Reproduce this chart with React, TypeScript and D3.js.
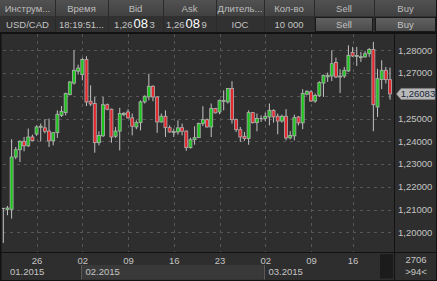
import React from "react";
import * as d3 from "d3";

const opens = [1.2105,1.2100,1.2101,1.2331,1.2363,1.2400,1.2380,1.2419,1.2432,1.2463,1.2459,1.2445,1.2402,1.2438,1.2514,1.2526,1.2605,1.2656,1.2708,1.2693,1.2760,1.2576,1.2566,1.2394,1.2424,1.2561,1.2541,1.2422,1.2445,1.2517,1.2529,1.2503,1.2463,1.2482,1.2573,1.2595,1.2642,1.2595,1.2485,1.2510,1.2460,1.2441,1.2441,1.2460,1.2445,1.2372,1.2407,1.2416,1.2478,1.2495,1.2463,1.2544,1.2529,1.2576,1.2573,1.2632,1.2495,1.2451,1.2422,1.2412,1.2526,1.2482,1.2500,1.2500,1.2507,1.2536,1.2510,1.2489,1.2510,1.2415,1.2424,1.2507,1.2481,1.2607,1.2617,1.2577,1.2602,1.2656,1.2683,1.2687,1.2746,1.2685,1.2687,1.2709,1.2790,1.2775,1.2771,1.2771,1.2785,1.2804,1.2551,1.2671,1.2712,1.2671];
const highs = [1.2105,1.2116,1.2409,1.2375,1.2404,1.2419,1.2456,1.2429,1.2470,1.2478,1.2497,1.2500,1.2441,1.2536,1.2555,1.2614,1.2664,1.2800,1.2737,1.2766,1.2774,1.2646,1.2595,1.2444,1.2595,1.2566,1.2544,1.2463,1.2547,1.2529,1.2541,1.2522,1.2492,1.2580,1.2602,1.2697,1.2646,1.2598,1.2522,1.2536,1.2470,1.2456,1.2492,1.2478,1.2448,1.2416,1.2466,1.2482,1.2554,1.2500,1.2566,1.2547,1.2583,1.2624,1.2634,1.2664,1.2500,1.2463,1.2441,1.2536,1.2529,1.2522,1.2514,1.2526,1.2566,1.2541,1.2522,1.2517,1.2541,1.2445,1.2517,1.2511,1.2629,1.2624,1.2624,1.2610,1.2664,1.2693,1.2702,1.2800,1.2768,1.2717,1.2727,1.2822,1.2815,1.2815,1.2793,1.2797,1.2810,1.2837,1.2719,1.2756,1.2727,1.2724];
const lows = [1.1953,1.2075,1.2060,1.2321,1.2309,1.2356,1.2375,1.2400,1.2424,1.2400,1.2435,1.2375,1.2382,1.2415,1.2507,1.2514,1.2602,1.2649,1.2693,1.2668,1.2555,1.2555,1.2350,1.2382,1.2419,1.2536,1.2394,1.2415,1.2360,1.2510,1.2500,1.2426,1.2453,1.2448,1.2566,1.2580,1.2576,1.2437,1.2482,1.2419,1.2438,1.2419,1.2429,1.2426,1.2358,1.2368,1.2385,1.2415,1.2467,1.2460,1.2419,1.2522,1.2519,1.2536,1.2566,1.2478,1.2441,1.2397,1.2402,1.2385,1.2478,1.2444,1.2485,1.2488,1.2470,1.2482,1.2431,1.2482,1.2404,1.2409,1.2404,1.2470,1.2453,1.2602,1.2573,1.2569,1.2595,1.2595,1.2661,1.2665,1.2678,1.2612,1.2678,1.2705,1.2771,1.2731,1.2749,1.2768,1.2771,1.2444,1.2507,1.2629,1.2654,1.2583];
const closes = [1.2105,1.2107,1.2331,1.2363,1.2400,1.2380,1.2419,1.2403,1.2463,1.2466,1.2444,1.2402,1.2438,1.2519,1.2532,1.2610,1.2661,1.2712,1.2722,1.2760,1.2573,1.2564,1.2394,1.2426,1.2561,1.2541,1.2419,1.2445,1.2522,1.2523,1.2503,1.2466,1.2482,1.2573,1.2598,1.2642,1.2595,1.2485,1.2510,1.2460,1.2441,1.2443,1.2459,1.2444,1.2372,1.2407,1.2416,1.2478,1.2495,1.2463,1.2544,1.2525,1.2580,1.2580,1.2632,1.2495,1.2451,1.2419,1.2412,1.2526,1.2482,1.2500,1.2500,1.2510,1.2536,1.2507,1.2489,1.2510,1.2415,1.2426,1.2504,1.2481,1.2610,1.2620,1.2577,1.2602,1.2658,1.2690,1.2690,1.2741,1.2683,1.2687,1.2712,1.2778,1.2775,1.2777,1.2772,1.2785,1.2804,1.2561,1.2675,1.2712,1.2671,1.26083];

const yTicks = [1.20, 1.21, 1.22, 1.23, 1.24, 1.25, 1.26, 1.27, 1.28];
const dayTickIdx = [8, 19, 30, 41, 52, 63, 74, 84];
const dayLabels = ["26", "02", "09", "16", "23", "02", "09", "16"];
const monthLabels = ["01.2015", "02.2015", "03.2015"];
const monthStartIdx = [0, 19, 63];
const lastPrice = 1.26083;

const headerCols = ["Инструм...", "Время", "Bid", "Ask", "Длитель...", "Кол-во", "Sell", "Buy"];
const colEdges = [0, 55, 108, 163, 216, 264, 314, 374, 437];
const rowValues = ["USD/CAD", "18:19:51...", "", "", "IOC", "10 000", "", ""];
const bidParts = ["1,26", "08", "3"];
const askParts = ["1,26", "08", "9"];
const footerCount = "2706";
const footerZoom = ">94<";

const W = 437;
const H = 281;
const FONT = "'Liberation Sans', Arial, sans-serif";
const GREEN = "#1bc41b";
const RED = "#e5262b";
const TXT = "#c4c4c4";

const locale = d3.formatLocale({ decimal: ",", thousands: " ", grouping: [3], currency: ["", ""] });
const fmt = locale.format(".5f");

export default function App() {
  const n = opens.length;
  const x = d3.scaleLinear().domain([0, n - 1]).range([3.3, 390]);
  const y = d3.scaleLinear().domain([1.2, 1.28]).range([232.3, 50.3]);
  const plotL = 1, plotR = 394, plotT = 34, plotB = 252;

  const lastY = y(lastPrice);

  return (
    <svg width={W} height={H} style={{ position: "absolute", left: 0, top: 0, display: "block" }} fontFamily={FONT}>
      <defs>
        <linearGradient id="hdr" x1="0" y1="0" x2="0" y2="1">
          <stop offset="0" stopColor="#515151" />
          <stop offset="1" stopColor="#414141" />
        </linearGradient>
        <linearGradient id="btn" x1="0" y1="0" x2="0" y2="1">
          <stop offset="0" stopColor="#626262" />
          <stop offset="1" stopColor="#4a4a4a" />
        </linearGradient>
        <clipPath id="plotClip">
          <rect x={plotL + 1} y={plotT} width={plotR - plotL - 1} height={plotB - plotT} />
        </clipPath>
      </defs>
      <rect x={0} y={0} width={W} height={H} fill="#2e2e2e" />
      {/* header */}
      <rect x={0} y={0} width={W} height={16} fill="url(#hdr)" />
      <rect x={0} y={16} width={W} height={16} fill="#313131" />
      {colEdges.slice(1, -1).map((e, i) => (
        <line key={"sep" + i} x1={e + 0.5} x2={e + 0.5} y1={0} y2={32} stroke="#2a2a2a" strokeWidth={1} />
      ))}
      {headerCols.map((t, i) => (
        <text key={"h" + i} x={(colEdges[i] + colEdges[i + 1]) / 2} y={12} textAnchor="middle" fontSize={9.5} fill="#bdbdbd">{t}</text>
      ))}
      {rowValues.map((t, i) => t ? (
        <text key={"r" + i} x={(colEdges[i] + colEdges[i + 1]) / 2} y={27.7} textAnchor="middle" fontSize={9.5} fill={TXT}>{t}</text>
      ) : null)}
      <text x={134.5} y={28} textAnchor="middle" fill={TXT}>
        <tspan fontSize={9.5}>{bidParts[0]}</tspan>
        <tspan fontSize={13} fill="#ffffff" dx={1}>{bidParts[1]}</tspan>
        <tspan fontSize={9.5} dx={1.5}>{bidParts[2]}</tspan>
      </text>
      <text x={186.5} y={28} textAnchor="middle" fill={TXT}>
        <tspan fontSize={9.5}>{askParts[0]}</tspan>
        <tspan fontSize={13} fill="#ffffff" dx={1}>{askParts[1]}</tspan>
        <tspan fontSize={9.5} dx={1.5}>{askParts[2]}</tspan>
      </text>
      {[6, 7].map((ci) => (
        <g key={"btn" + ci}>
          <rect x={colEdges[ci] + 1.5} y={17.5} width={colEdges[ci + 1] - colEdges[ci] - 3} height={14} fill="url(#btn)" stroke="#1a1a1a" strokeWidth={1} />
          <text x={(colEdges[ci] + colEdges[ci + 1]) / 2} y={28} textAnchor="middle" fontSize={9.5} fill="#c2c2c2">{headerCols[ci]}</text>
        </g>
      ))}
      <rect x={0} y={32} width={W} height={2} fill="#121212" />

      {/* grid */}
      {yTicks.map((t, i) => (
        <line key={"gy" + i} x1={plotL + 2} x2={plotR} y1={Math.round(y(t)) + 0.5} y2={Math.round(y(t)) + 0.5} stroke="#575757" strokeDasharray="3,4" />
      ))}
      {dayTickIdx.map((d, i) => (
        <line key={"gx" + i} x1={Math.round(x(d)) + 0.5} x2={Math.round(x(d)) + 0.5} y1={plotT} y2={plotB} stroke="#575757" strokeDasharray="3,4" />
      ))}

      {/* candles */}
      <g clipPath="url(#plotClip)">
        {opens.map((o, i) => {
          const c = closes[i];
          const cx = x(i);
          const top = y(Math.max(o, c));
          const bot = y(Math.min(o, c));
          const up = c > o;
          const flat = Math.abs(c - o) < 0.00001;
          return (
            <g key={"c" + i}>
              <line x1={cx} x2={cx} y1={y(highs[i])} y2={y(lows[i])} stroke="#c2c2c2" strokeWidth={1} />
              {flat ? (
                <line x1={cx - 1.5} x2={cx + 1.5} y1={top} y2={top} stroke="#c2c2c2" strokeWidth={1} />
              ) : (
                <rect x={cx - 1.5} y={top} width={3} height={Math.max(1, bot - top)} fill={up ? GREEN : RED} stroke="#b0b0b0" strokeWidth={0.8} />
              )}
            </g>
          );
        })}
      </g>

      {/* frame lines */}
      <rect x={0} y={32} width={1.5} height={H - 32} fill="#121212" />
      <rect x={plotR} y={32} width={1} height={H - 32} fill="#121212" />
      <rect x={0} y={plotB} width={W} height={1} fill="#121212" />
      <rect x={0} y={H - 1} width={W} height={1} fill="#121212" />
      <rect x={W - 1} y={0} width={1} height={H} fill="#121212" />

      {/* y axis (the last-price marker hides the tick label it covers) */}
      {yTicks.filter((t) => Math.abs(y(t) - lastY) > 9).map((t, i) => (
        <text key={"yl" + i} x={398} y={y(t) + 3.4} fontSize={9.5} fill={TXT}>{fmt(t)}</text>
      ))}
      <polygon points={`${plotR + 2.5},${lastY} ${plotR + 7},${lastY - 5.5} ${W - 2},${lastY - 5.5} ${W - 2},${lastY + 5.5} ${plotR + 7},${lastY + 5.5}`} fill="#b8b8b8" stroke="#8a8a8a" strokeWidth={0.6} />
      <text x={418} y={lastY + 3.4} textAnchor="middle" fontSize={9.5} fill="#16263a">{fmt(lastPrice)}</text>

      {/* x axis */}
      {dayTickIdx.map((d, i) => (
        <text key={"xl" + i} x={x(d) + 0.5} y={264} textAnchor="middle" fontSize={9.5} fill={TXT}>{dayLabels[i]}</text>
      ))}
      {monthLabels.map((m, i) => {
        const start = i === 0 ? plotL + 1.5 : x(monthStartIdx[i]) - 1.3;
        const end = i + 1 < monthLabels.length ? x(monthStartIdx[i + 1]) - 1.3 : 380;
        return (
          <g key={"m" + i}>
            {i === 1 && <rect x={start} y={265} width={end - start} height={14.5} fill="#393939" />}
            {i > 0 && <line x1={Math.round(start) + 0.5} x2={Math.round(start) + 0.5} y1={265} y2={279.5} stroke="#5a5a5a" />}
            <text x={i === 0 ? 10 : start + 4.5} y={275} fontSize={9.5} fill={TXT}>{m}</text>
          </g>
        );
      })}
      <rect x={380} y={254} width={13} height={24.5} fill="#1b1b1b" />
      <text x={416} y={263} textAnchor="middle" fontSize={9.5} fill={TXT}>{footerCount}</text>
      <text x={416} y={274.5} textAnchor="middle" fontSize={9.5} fill={TXT}>{footerZoom}</text>
    </svg>
  );
}
